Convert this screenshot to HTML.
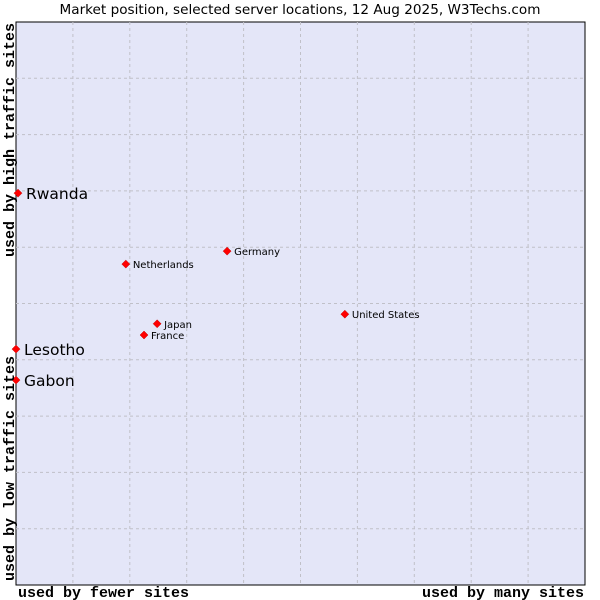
<!DOCTYPE html>
<html><head><meta charset="utf-8"><style>
body{margin:0;background:#fff}
svg{display:block}
</style></head><body>
<svg id="chart" width="600" height="600" xmlns="http://www.w3.org/2000/svg">
<text x="300" y="14" text-anchor="middle" font-family="DejaVu Sans, sans-serif" font-size="13.6" fill="#000">Market position, selected server locations, 12 Aug 2025, W3Techs.com</text>
<rect x="16" y="22" width="569" height="563" fill="#e4e6f8" stroke="#000" stroke-width="1"/>
<g id="grid"></g>
<g id="points"></g>
<text x="18" y="597" font-family="Liberation Mono, monospace" font-size="15" font-weight="bold">used by fewer sites</text>
<text x="584" y="597" text-anchor="end" font-family="Liberation Mono, monospace" font-size="15" font-weight="bold">used by many sites</text>
<text transform="translate(14,581) rotate(-90)" font-family="Liberation Mono, monospace" font-size="15" font-weight="bold">used by low traffic sites</text>
<text transform="translate(14,23) rotate(-90)" text-anchor="end" font-family="Liberation Mono, monospace" font-size="15" font-weight="bold">used by high traffic sites</text>
</svg>
<script>
const names = ["Rwanda","Netherlands","Germany","United States","Japan","France","Lesotho","Gabon"];
const xValues = [0.35,19.3,37.1,57.8,24.8,22.5,0,0];
const yValues = [69.6,57.0,59.3,48.1,46.4,44.4,41.9,36.4];
const bigLabel = [true,false,false,false,false,false,true,true];
const NS="http://www.w3.org/2000/svg";
const X0=16,X1=585,Y0=585,Y1=22;
const xs=v=>X0+v/100*(X1-X0);
const ys=v=>Y0-v/100*(Y0-Y1);
const grid=document.getElementById('grid');
for(let i=1;i<10;i++){
  const vx=document.createElementNS(NS,'line');
  
  
  vx.setAttribute('x1',xs(i*10));vx.setAttribute('x2',xs(i*10));
  vx.setAttribute('y1',Y1);vx.setAttribute('y2',Y0);
  vx.setAttribute('stroke','#c0c0c8');vx.setAttribute('stroke-dasharray','3,3');
  grid.appendChild(vx);
  const hy=document.createElementNS(NS,'line');
  
  
  hy.setAttribute('x1',X0);hy.setAttribute('x2',X1);
  hy.setAttribute('y1',ys(i*10));hy.setAttribute('y2',ys(i*10));
  hy.setAttribute('stroke','#c0c0c8');hy.setAttribute('stroke-dasharray','3,3');
  grid.appendChild(hy);
}
const pts=document.getElementById('points');
names.forEach((n,i)=>{
  const x=xs(xValues[i]),y=ys(yValues[i]);
  const m=document.createElementNS(NS,'polygon');
  
  
  m.setAttribute('points',`${x},${y-4} ${x+4},${y} ${x},${y+4} ${x-4},${y}`);
  m.setAttribute('fill','#ff0000');m.setAttribute('stroke','#c00000');m.setAttribute('stroke-width','0.5');
  pts.appendChild(m);
  const t=document.createElementNS(NS,'text');
  
  
  t.setAttribute('x',x+(bigLabel[i]?8:7));
  t.setAttribute('y',y+(bigLabel[i]?6:4));
  t.setAttribute('font-family','DejaVu Sans, sans-serif');
  t.setAttribute('font-size',bigLabel[i]?'15.5':'10');
  t.textContent=n;
  pts.appendChild(t);
});
</script>
</body></html>
